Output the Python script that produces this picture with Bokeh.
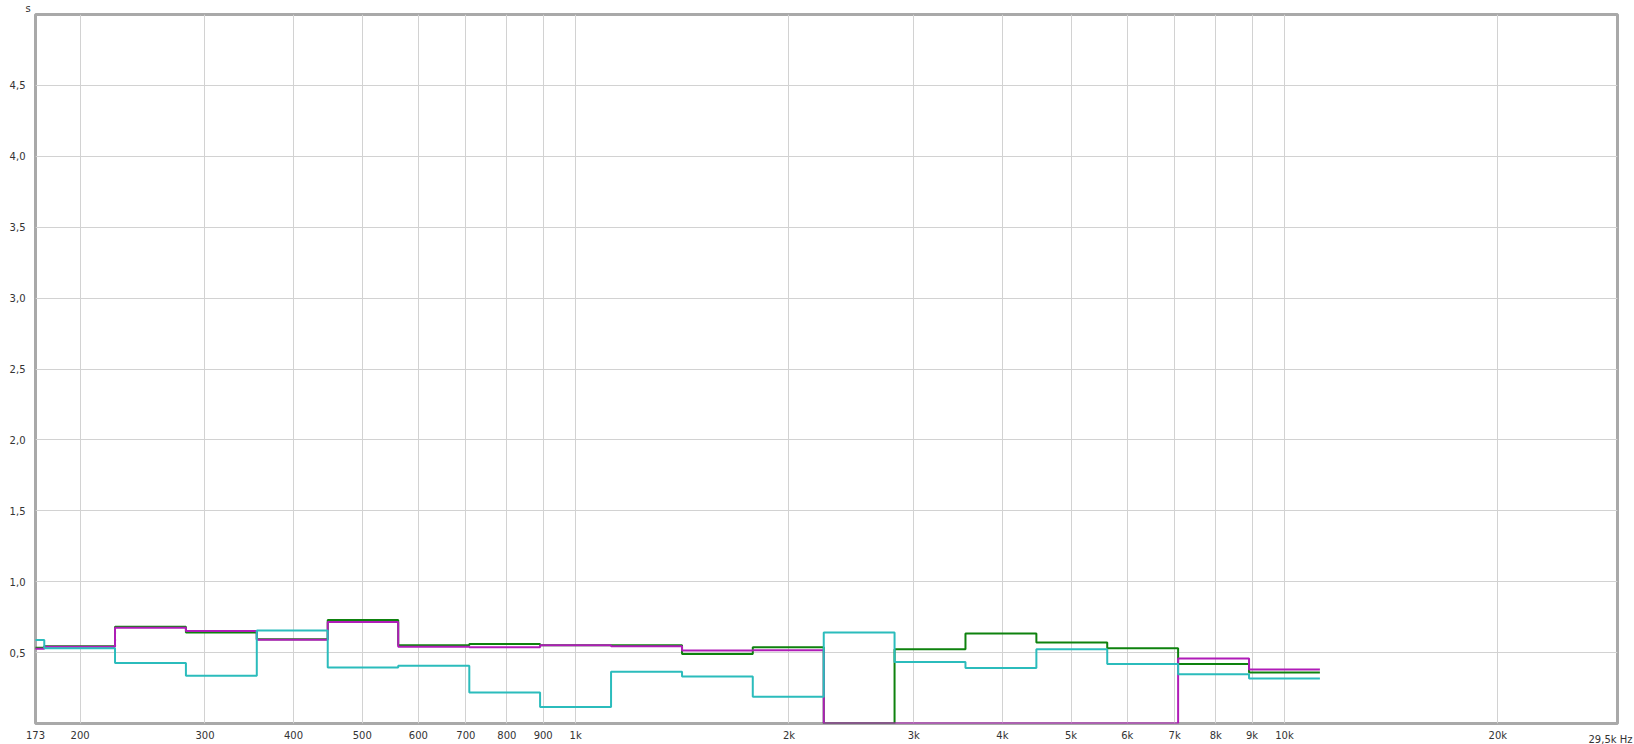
from bokeh.plotting import figure
from bokeh.models import FixedTicker, Title
from bokeh.embed import file_html
from bokeh.resources import INLINE

# 1/3-octave band edges (Hz)
band_edges = [141, 178, 224, 282, 355, 447, 562, 708, 891, 1122, 1413, 1778,
              2239, 2818, 3548, 4467, 5623, 7079, 8913, 11220]
# RT values (s) per band (160 Hz ... 10 kHz)
green = [0.535, 0.545, 0.683, 0.641, 0.594, 0.730, 0.552, 0.561, 0.552, 0.552,
         0.491, 0.538, 0.0, 0.524, 0.634, 0.571, 0.531, 0.419, 0.360]
magenta = [0.527, 0.542, 0.676, 0.653, 0.590, 0.716, 0.542, 0.538, 0.552, 0.545,
           0.514, 0.517, 0.0, 0.0, 0.0, 0.0, 0.0, 0.458, 0.381]
cyan = [0.589, 0.531, 0.426, 0.337, 0.655, 0.395, 0.407, 0.219, 0.117, 0.365,
        0.332, 0.189, 0.641, 0.433, 0.391, 0.524, 0.419, 0.348, 0.318]

x_ticks = [173, 200, 300, 400, 500, 600, 700, 800, 900, 1000, 2000, 3000, 4000,
           5000, 6000, 7000, 8000, 9000, 10000, 20000]
x_tick_labels = ["173", "200", "300", "400", "500", "600", "700", "800", "900",
                 "1k", "2k", "3k", "4k", "5k", "6k", "7k", "8k", "9k", "10k", "20k"]
x_end_label = "29,5k Hz"
y_ticks = [0.5, 1.0, 1.5, 2.0, 2.5, 3.0, 3.5, 4.0, 4.5]
y_tick_labels = ["0,5", "1,0", "1,5", "2,0", "2,5", "3,0", "3,5", "4,0", "4,5"]

FONT = "DejaVu Sans"
FS = "10px"
TC = "#333333"

W, H = 1634, 744
BL, BT, BR, BB = 35, 13, 17, 21

p = figure(width=W, height=H, x_axis_type="log",
           x_range=(173, 29500), y_range=(0, 5.0),
           output_backend="svg", toolbar_location=None,
           min_border_left=BL, min_border_top=BT, min_border_right=BR,
           min_border_bottom=BB)
p.background_fill_color = "white"
p.border_fill_color = "white"
p.outline_line_color = "#a9a9a9"
p.outline_line_width = 3

p.title = Title(text="s", align="left", offset=-10, standoff=1,
                text_font=FONT, text_font_size=FS, text_color=TC,
                text_font_style="normal")

for ax in (p.xaxis[0], p.yaxis[0]):
    ax.axis_line_color = None
    ax.major_tick_line_color = None
    ax.minor_tick_line_color = None
    ax.major_label_text_font = FONT
    ax.major_label_text_font_size = FS
    ax.major_label_text_color = TC
    ax.major_label_standoff = 4
p.xaxis.major_label_standoff = 0

p.xaxis.ticker = FixedTicker(ticks=x_ticks)
p.xaxis.major_label_overrides = {t: l for t, l in zip(x_ticks, x_tick_labels)}
p.yaxis.ticker = FixedTicker(ticks=y_ticks)
p.yaxis.major_label_overrides = {t: l for t, l in zip(y_ticks, y_tick_labels)}

p.xgrid.grid_line_color = "#d2d2d2"
p.ygrid.grid_line_color = "#d2d2d2"
p.xgrid.grid_line_width = 1
p.ygrid.grid_line_width = 1

def step_pts(vals):
    xs = list(band_edges)
    ys = list(vals) + [vals[-1]]
    return xs, ys

for vals, col in ((green, "#0e820e"), (magenta, "#b01cb8"), (cyan, "#2bbcbc")):
    xs, ys = step_pts(vals)
    p.step(xs, ys, mode="after", line_color=col, line_width=2)

end_title = Title(text=x_end_label, align="right", vertical_align="top",
                  offset=-15, text_font=FONT, text_font_size=FS, text_color=TC,
                  text_font_style="normal")
try:
    end_title.standoff = -20
except Exception:
    end_title.standoff = 0
p.add_layout(end_title, "below")

open("out.html", "w").write(file_html(p, INLINE))
